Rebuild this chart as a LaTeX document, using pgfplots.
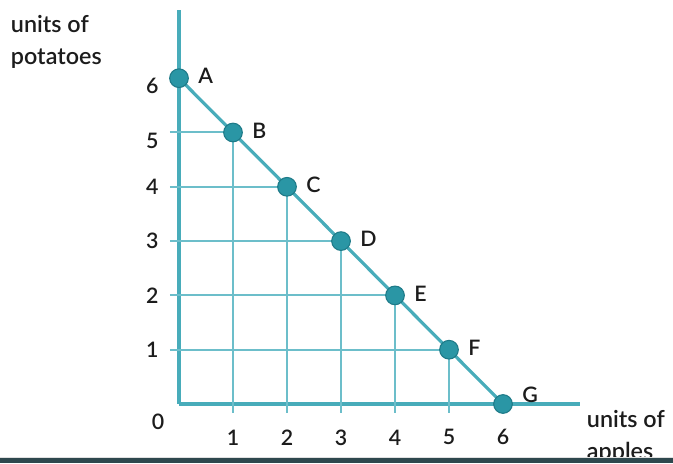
\documentclass[border=0pt]{standalone}
\usepackage{pgfplots}
\pgfplotsset{compat=1.18}
\usepackage{fontspec}
\setmainfont{Lato Semibold}

\definecolor{axisteal}{RGB}{72,172,186}
\definecolor{dropteal}{RGB}{108,190,202}
\definecolor{markfill}{RGB}{42,150,165}
\definecolor{markedge}{RGB}{30,122,136}
\definecolor{labeltext}{RGB}{28,28,28}
\definecolor{band}{RGB}{46,72,78}

\newcommand{\lblfont}{\fontsize{16}{19}\selectfont}
\newcommand{\ttlfont}{\fontsize{17.5}{21}\selectfont}

\begin{document}
\begin{tikzpicture}[x=1pt,y=1pt]
\useasboundingbox (0,0) rectangle (504.75,347.25);
\begin{axis}[
  at={(134.25pt,44.25pt)}, anchor=origin,
  x=40.5pt, y=40.725pt,
  xmin=0, xmax=7.43, ymin=0, ymax=7.26,
  axis lines*=left,
  axis line style={draw=axisteal, line width=2.4pt},
  clip=false,
  xtick={1,...,6}, ytick={1,...,4},
  extra y ticks={5,6},
  extra y tick style={yticklabel style={yshift=-6pt}},
  major tick length=0pt,
  tick style={draw=none},
  /pgf/number format/assume math mode=true,
  xticklabel style={anchor=center, yshift=-25pt, font=\lblfont, text=labeltext},
  yticklabel style={anchor=center, xshift=-20pt, font=\lblfont, text=labeltext},
]
% drop lines from each bundle to both axes
\addplot[dropteal, line width=1.5pt] coordinates {(-0.17,5) (1,5) (1,-0.17)};
\addplot[dropteal, line width=1.5pt] coordinates {(-0.17,4) (2,4) (2,-0.17)};
\addplot[dropteal, line width=1.5pt] coordinates {(-0.17,3) (3,3) (3,-0.17)};
\addplot[dropteal, line width=1.5pt] coordinates {(-0.17,2) (4,2) (4,-0.17)};
\addplot[dropteal, line width=1.5pt] coordinates {(-0.17,1) (5,1) (5,-0.17)};

% production possibilities frontier
\addplot[axisteal, line width=2.4pt, mark=*, mark size=7pt,
  mark options={fill=markfill, draw=markedge, line width=0.8pt}]
  table {
x y
0 6
1 5
2 4
3 3
4 2
5 1
6 0
};

% point names
\addplot[draw=none, nodes near coords, point meta=explicit symbolic,
  every node near coord/.append style={anchor=west, xshift=11pt, yshift=1.5pt,
    font=\lblfont, text=labeltext}]
  table[meta=label] {
x y label
0 6 A
1 5 B
2 4 C
3 3 D
4 2 E
5 1 F
};
\addplot[draw=none, nodes near coords, point meta=explicit symbolic,
  every node near coord/.append style={anchor=west, xshift=11pt, yshift=7pt,
    font=\lblfont, text=labeltext}]
  table[meta=label] {
x y label
6 0 G
};

\node[font=\lblfont, text=labeltext] at (axis cs:0,0) [xshift=-15.75pt, yshift=-13.5pt] {0};
\end{axis}

% axis titles
\node[anchor=base west, font=\ttlfont, text=labeltext, inner sep=0pt] at (8pt,322.5pt) {units of};
\node[anchor=base west, font=\ttlfont, text=labeltext, inner sep=0pt] at (8pt,298.5pt) {potatoes};
\node[anchor=base west, font=\ttlfont, text=labeltext, inner sep=0pt] at (440pt,26.25pt) {units of};
\node[anchor=base west, font=\ttlfont, text=labeltext, inner sep=0pt] at (440pt,2.25pt) {apples};

% footer rule
\fill[black!12] (0,3.6) rectangle (504.75,4.3);
\fill[band] (0,0) rectangle (504.75,3.6);
\end{tikzpicture}
\end{document}
